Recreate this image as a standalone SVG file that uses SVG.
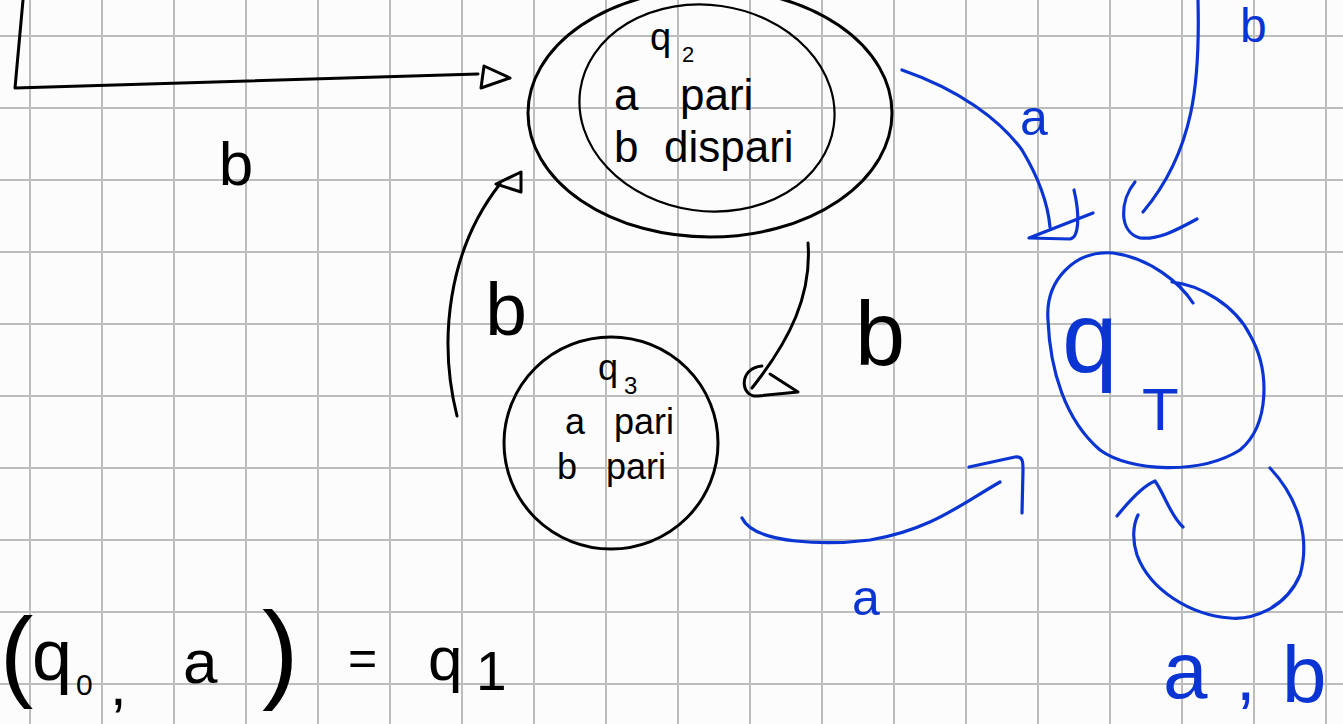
<svg xmlns="http://www.w3.org/2000/svg" width="1343" height="724" viewBox="0 0 1343 724">
<style>
.grid{stroke:#bdbdbd;stroke-width:2;fill:none}
.k{stroke:#000;stroke-width:3;fill:none;stroke-linecap:round;stroke-linejoin:round}
.kt{stroke:#000;stroke-width:2.2;fill:none}
.b{stroke:#0a35d2;stroke-width:3.2;fill:none;stroke-linecap:round;stroke-linejoin:round}
.tk{font-family:"Liberation Sans",Arial,sans-serif;fill:#000}
.tb{font-family:"Liberation Sans",Arial,sans-serif;fill:#0a35d2}
</style>
<rect width="1343" height="724" fill="#fcfcfc"/>
<g id="grid">
<path class="grid" d="M30,0V724M102,0V724M174,0V724M246,0V724M318,0V724M390,0V724M462,0V724M534,0V724M606,0V724M678,0V724M750,0V724M822,0V724M894,0V724M966,0V724M1038,0V724M1110,0V724M1182,0V724M1254,0V724M1326,0V724"/>
<path class="grid" d="M0,36H1343M0,108H1343M0,180H1343M0,252H1343M0,324H1343M0,396H1343M0,468H1343M0,540H1343M0,612H1343M0,684H1343"/>
</g>
<g id="connectors">
<path class="k" d="M23,0 L15,88 L478,74"/>
<path class="k" d="M484,66 L510,78 L481,88 Z"/>
<path class="k" d="M457,416 C438,340 448,250 500,184"/>
<path class="k" d="M496,184 L521,172 L521,192 Z"/>
<path class="k" d="M808,243 C812,295 790,340 752,388"/>
<path class="k" d="M762,366 C738,368 740,398 758,396 L798,392 L770,374"/>
<path class="b" d="M902,70 C960,90 1000,120 1022,150 C1040,180 1048,205 1050,227"/>
<path class="b" d="M1074,190 C1080,215 1079,238 1070,239 L1029,238 L1093,213"/>
<path class="b" d="M1198,0 C1200,80 1195,150 1143,212"/>
<path class="b" d="M1135,182 C1120,200 1118,232 1140,238 C1160,240 1180,228 1197,219"/>
<path class="b" d="M742,518 C755,545 830,545 870,540 C930,530 960,505 1000,482"/>
<path class="b" d="M969,467 L1015,457 C1023,456 1023,462 1023,470 L1022,513"/>
<path class="b" d="M1270,468 C1300,500 1310,540 1300,575 C1285,610 1250,620 1230,618 C1190,615 1150,590 1137,555 C1132,540 1133,525 1138,515"/>
<path class="b" d="M1117,516 C1130,500 1145,485 1155,481 C1165,495 1170,515 1183,527"/>
</g>
<g id="q2">
<ellipse class="k" cx="710" cy="113" rx="182" ry="124"/>
<ellipse class="kt" cx="707" cy="108" rx="128" ry="103" transform="rotate(8 707 108)"/>
<text class="tk" x="650" y="50" font-size="38">q</text>
<text class="tk" x="682" y="62" font-size="22">2</text>
<text class="tk" x="614" y="110" font-size="44">a</text>
<text class="tk" x="680" y="110" font-size="44">pari</text>
<text class="tk" x="614" y="162" font-size="44">b</text>
<text class="tk" x="664" y="162" font-size="44">dispari</text>
</g>
<g id="q3">
<ellipse class="k" cx="611" cy="443" rx="107" ry="106"/>
<text class="tk" x="598" y="380" font-size="36">q</text>
<text class="tk" x="624" y="394" font-size="24">3</text>
<text class="tk" x="565" y="434" font-size="36">a</text>
<text class="tk" x="614" y="434" font-size="36">pari</text>
<text class="tk" x="557" y="479" font-size="36">b</text>
<text class="tk" x="606" y="479" font-size="36">pari</text>
</g>
<g id="qT">
<path class="b" d="M1193,303 C1180,283 1150,258 1113,253 C1075,250 1045,280 1048,320 C1050,370 1065,420 1100,450 C1130,472 1200,475 1240,450 C1270,425 1270,370 1250,335 C1235,305 1200,285 1172,282"/>
<text class="tb" x="1062" y="372" font-size="100">q</text>
<text class="tb" x="1142" y="430" font-size="60">T</text>
</g>
<g id="labels">
<text class="tk" x="236" y="185" font-size="62" text-anchor="middle">b</text>
<text class="tk" x="506" y="335" font-size="75" text-anchor="middle">b</text>
<text class="tk" x="880" y="365" font-size="90" text-anchor="middle">b</text>
<text class="tb" x="1020" y="135" font-size="50">a</text>
<text class="tb" x="1240" y="42" font-size="48">b</text>
<text class="tb" x="852" y="615" font-size="50">a</text>
<text class="tb" x="1163" y="698" font-size="80">a</text>
<text class="tb" x="1236" y="700" font-size="70">,</text>
<text class="tb" x="1282" y="702" font-size="80">b</text>
</g>
<g id="equation">
<text class="tk" x="0" y="688" font-size="100">(</text>
<text class="tk" x="32" y="680" font-size="72">q</text>
<text class="tk" x="76" y="695" font-size="30">0</text>
<text class="tk" x="110" y="705" font-size="60">,</text>
<text class="tk" x="183" y="683" font-size="62">a</text>
<text class="tk" x="262" y="688" font-size="110">)</text>
<text class="tk" x="348" y="675" font-size="50">=</text>
<text class="tk" x="428" y="680" font-size="62">q</text>
<text class="tk" x="476" y="690" font-size="55">1</text>
</g>
</svg>
